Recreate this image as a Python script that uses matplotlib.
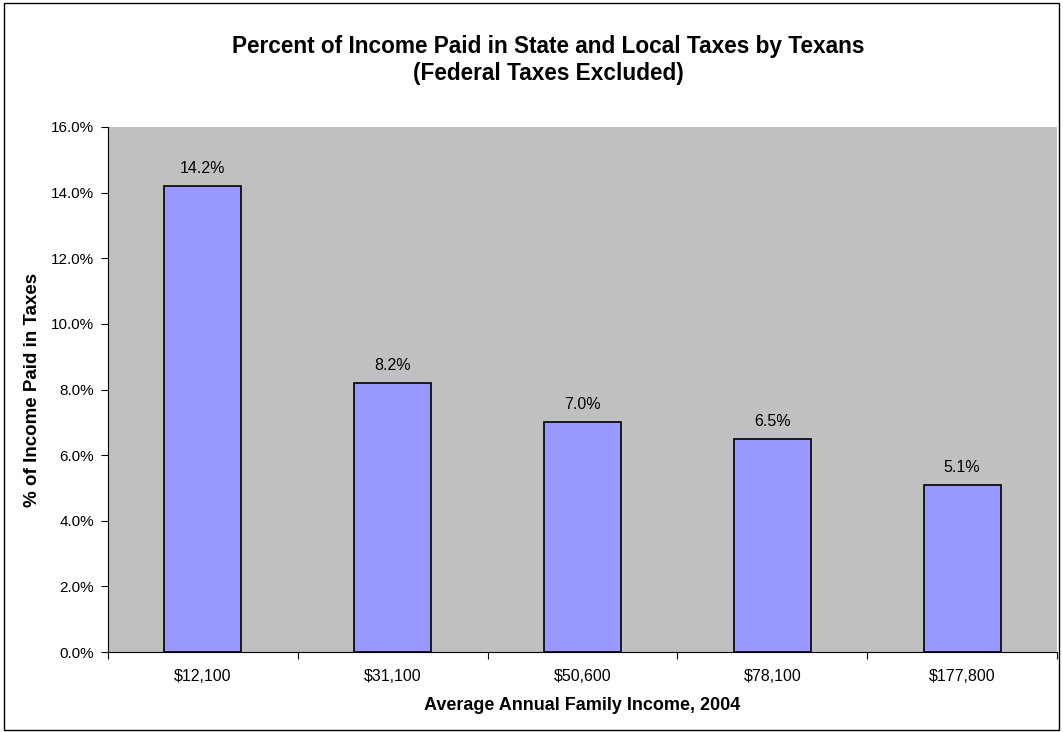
import matplotlib.pyplot as plt
import numpy as np
from matplotlib.patches import Rectangle
from matplotlib.ticker import FuncFormatter

# Данные
incomes = ['$12,100', '$31,100', '$50,600', '$78,100', '$177,800']
tax_share = [14.2, 8.2, 7.0, 6.5, 5.1]

plt.rcParams['font.family'] = ['Liberation Sans', 'DejaVu Sans']

fig = plt.figure(figsize=(10.63, 7.32), dpi=100)
ax = fig.add_axes([108 / 1063, 1 - 652 / 732, 949 / 1063, 525 / 732])

x = np.arange(len(incomes))
ax.bar(x, tax_share, width=0.405, color='#9999FF', edgecolor='black', linewidth=1.2, zorder=3)

for xi, v in zip(x, tax_share):
    ax.text(xi, v + 0.3, f'{v:.1f}%', ha='center', va='bottom', fontsize=11.5)

ax.set_facecolor('#C0C0C0')
ax.set_xlim(-0.5, len(incomes) - 0.5)
ax.set_ylim(0, 16)
ax.set_yticks(np.arange(0, 16.1, 2))
ax.yaxis.set_major_formatter(FuncFormatter(lambda v, p: f'{v:.1f}%'))

# Засечки между категориями
ax.set_xticks(np.arange(-0.5, len(incomes), 1))
ax.set_xticklabels([])
ax.set_xticks(x, minor=True)
ax.set_xticklabels(incomes, minor=True)
ax.tick_params(axis='x', which='minor', length=0, pad=12, labelsize=11.5)
ax.tick_params(axis='x', which='major', length=5, direction='out')
ax.tick_params(axis='y', length=5, direction='out', labelsize=11, pad=5)

for s in ['top', 'right']:
    ax.spines[s].set_visible(False)

ax.set_xlabel('Average Annual Family Income, 2004', fontsize=13, fontweight='bold', va='center')
ax.set_ylabel('% of Income Paid in Taxes', fontsize=13.5, fontweight='bold', va='center')
ax.xaxis.set_label_coords(0.5, -53 / 525)
ax.yaxis.set_label_coords(-75 / 949, 0.5)

fig.text(548 / 1063, 1 - 60 / 732, 'Percent of Income Paid in State and Local Taxes by Texans\n(Federal Taxes Excluded)',
         ha='center', va='center', fontsize=16.3, fontweight='bold', linespacing=1.25)

# Рамка вокруг всей диаграммы
fig.patches.append(Rectangle((4 / 1063, 2 / 732), 1055 / 1063, 727 / 732, transform=fig.transFigure,
                             fill=False, edgecolor='black', linewidth=1))

fig.savefig('out.png', dpi=100)
